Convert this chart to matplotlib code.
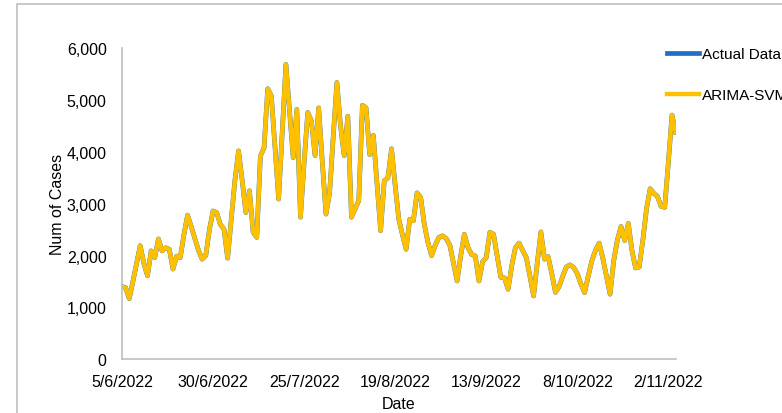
import numpy as np
import pandas as pd
import matplotlib
matplotlib.use("Agg")
import matplotlib.pyplot as plt
from matplotlib.patches import Rectangle
from matplotlib.ticker import FuncFormatter

plt.rcParams['font.family'] = ['Liberation Sans', 'DejaVu Sans']

start_date = "2022-06-05"
actual_data = [
    1400, 1380, 1170, 1500, 1850, 2190, 1850, 1610, 2090, 1960,
    2320, 2090, 2150, 2120, 1740, 1990, 1960, 2400, 2780, 2560,
    2330, 2100, 1930, 2000, 2500, 2860, 2830, 2600, 2510, 1950,
    2700, 3450, 4020, 3450, 2830, 3250, 2450, 2350, 3920, 4080,
    5220, 5080, 4100, 3090, 4400, 5690, 4800, 3890, 4820, 2740,
    3800, 4760, 4600, 3930, 4850, 3800, 2800, 3210, 4300, 5340,
    4500, 3930, 4690, 2740, 2900, 3060, 4900, 4850, 3950, 4320,
    3400, 2480, 3440, 3500, 4060, 3350, 2700, 2400, 2120, 2700,
    2670, 3210, 3120, 2600, 2250, 2000, 2200, 2350, 2380, 2330,
    2200, 1850, 1510, 2000, 2410, 2150, 2020, 1990, 1510, 1880,
    1960, 2450, 2410, 2000, 1580, 1570, 1350, 1800, 2150, 2240,
    2100, 1960, 1600, 1220, 1850, 2455, 1930, 1980, 1650, 1290,
    1400, 1600, 1780, 1820, 1770, 1650, 1450, 1285, 1600, 1900,
    2100, 2240, 1950, 1600, 1255, 1900, 2300, 2560, 2290, 2620,
    2100, 1760, 1780, 2300, 2900, 3290, 3200, 3140, 2950, 2930,
    3800, 4710, 4380,
]
arima_svm = list(actual_data)
tick_dates = ["2022-06-05", "2022-06-30", "2022-07-25", "2022-08-19",
              "2022-09-13", "2022-10-08", "2022-11-02"]
tick_labels = ["5/6/2022", "30/6/2022", "25/7/2022", "19/8/2022",
               "13/9/2022", "8/10/2022", "2/11/2022"]
y_ticks = [0, 1000, 2000, 3000, 4000, 5000, 6000]

dates = pd.date_range(start_date, periods=len(actual_data), freq="D")

fig = plt.figure(figsize=(7.82, 4.14), dpi=100)
ax = fig.add_axes([0.156, 0.130, 0.708, 0.751])

# chart area border (partly off the canvas on the right)
fig.patches.append(Rectangle((17 / 782, -0.1), 1.2, 1 - 5 / 414 + 0.1,
                             transform=fig.transFigure, fill=False,
                             edgecolor="#BFBFBF", linewidth=1.2))

ax.plot(dates, actual_data, color="#1F6FC6", linewidth=3.4,
        solid_joinstyle="round", label="Actual Data")
ax.plot(dates, arima_svm, color="#FFC000", linewidth=3.2,
        solid_joinstyle="round", label="ARIMA-SVM")

ax.set_xlim(dates[0], dates[-1])
ax.set_ylim(0, 6000)
ax.set_yticks(y_ticks)
ax.yaxis.set_major_formatter(FuncFormatter(lambda v, p: f"{int(v):,}"))
ax.set_xticks(pd.to_datetime(tick_dates))
ax.set_xticklabels(tick_labels)
ax.tick_params(length=0, labelsize=11.5, colors="#000000")
ax.tick_params(axis="y", pad=11)
ax.tick_params(axis="x", pad=11)

for side in ["top", "right"]:
    ax.spines[side].set_visible(False)
for side in ["left", "bottom"]:
    ax.spines[side].set_color("#BFBFBF")
    ax.spines[side].set_linewidth(1.2)

ax.set_xlabel("Date", fontsize=11.5, labelpad=5)
ax.set_ylabel("Num of Cases", fontsize=11.5, labelpad=1)

fig.legend(loc="upper left", bbox_to_anchor=(661 / 782, 1 - 42 / 414),
           frameon=False, fontsize=11, handlelength=2.1, handletextpad=0.2,
           labelspacing=1.75, borderaxespad=0)

fig.savefig("out.png", dpi=100)
